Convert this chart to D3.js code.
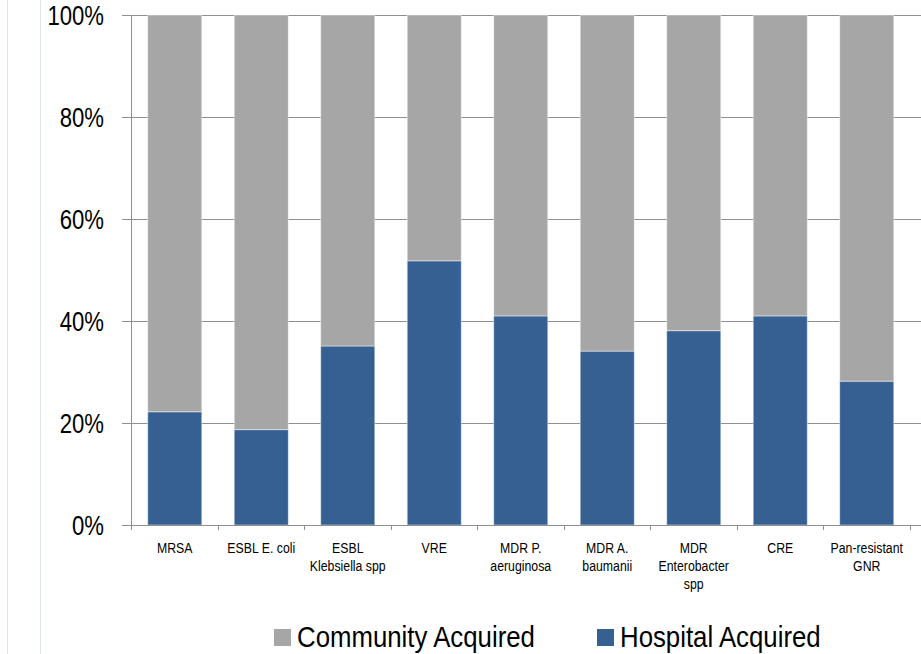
<!DOCTYPE html>
<html>
<head>
<meta charset="utf-8">
<script src="https://cdn.jsdelivr.net/npm/d3@7"></script>
<style>
	body { margin: 0; background: #fff; overflow: hidden; }
	svg { display: block; }
	text { font-family: "Liberation Sans", Arial, sans-serif; fill: #000; }
</style>
</head>
<body>
<div id="chart"></div>
<script>

// === Data === //

var categories = ['MRSA', 'ESBL E. coli', 'ESBL\nKlebsiella spp', 'VRE', 'MDR P.\naeruginosa', 'MDR A.\nbaumanii', 'MDR\nEnterobacter\nspp', 'CRE', 'Pan-resistant\nGNR'];
var hospital = [22.2, 18.7, 35.1, 51.8, 41.0, 34.1, 38.1, 41.0, 28.2]; // % hospital acquired
var community = [77.8, 81.3, 64.9, 48.2, 59.0, 65.9, 61.9, 59.0, 71.8]; // % community acquired
var yTicks = [0, 20, 40, 60, 80, 100];
var seriesNames = ['Hospital Acquired', 'Community Acquired'];


// === Globals === //

var width = 921, height = 654;
var plotLeft = 131.5, plotTop = 15, plotBottom = 525;
var step = 86.5;
var narrow = 0.82; // no narrow font installed, so squeeze the text horizontally

var colours = { 'Hospital Acquired': '#366092', 'Community Acquired': '#a6a6a6' };
var lineColour = '#8f8f8f';

var svg = d3.select('#chart').append('svg').attr('width', width).attr('height', height);

function squeeze(x, y, s) {
	return 'translate(' + x + ',' + y + ') scale(' + (s || narrow) + ',1)';
}


// === Page frame lines on the left === //

[7.5, 40.5].forEach(function(x) {
	svg.append('line')
		.attr('x1', x).attr('x2', x)
		.attr('y1', 0).attr('y2', height)
		.attr('stroke', '#dde4ef')
		.attr('stroke-width', 1);
});


// === Scales === //

var x = d3.scaleBand()
	.domain(categories)
	.range([plotLeft, plotLeft + categories.length * step])
	.paddingInner(0.375)
	.paddingOuter(0.1875);

var y = d3.scaleLinear()
	.domain([0, 100])
	.range([plotBottom, plotTop]);


// === Gridlines and y axis === //

svg.append('g')
	.attr('transform', 'translate(' + width + ',0)')
	.call(d3.axisLeft(y).tickValues(yTicks).tickSize(width - 122).tickFormat(''))
	.call(function(g) {
		g.select('.domain').remove();
		g.selectAll('line').attr('stroke', lineColour).attr('shape-rendering', 'crispEdges');
	});

svg.append('g')
	.selectAll('text')
	.data(yTicks)
	.join('text')
	.attr('transform', function(d) { return squeeze(104, y(d) + 10); })
	.attr('text-anchor', 'end')
	.attr('font-size', 27)
	.text(function(d) { return d + '%'; });

// y axis line
svg.append('line')
	.attr('x1', plotLeft).attr('x2', plotLeft)
	.attr('y1', plotTop).attr('y2', plotBottom + 5)
	.attr('stroke', lineColour)
	.attr('shape-rendering', 'crispEdges');


// === Stacked bars === //

var rows = categories.map(function(c, i) {
	return { category: c, 'Hospital Acquired': hospital[i], 'Community Acquired': community[i] };
});

var stacked = d3.stack().keys(seriesNames)(rows);

svg.append('g')
	.selectAll('g')
	.data(stacked)
	.join('g')
	.attr('fill', function(d) { return colours[d.key]; })
	.selectAll('rect')
	.data(function(d) { return d; })
	.join('rect')
	.attr('x', function(d) { return x(d.data.category); })
	.attr('y', function(d) { return y(d[1]); })
	.attr('width', x.bandwidth())
	.attr('height', function(d) { return y(d[0]) - y(d[1]); })
	.attr('stroke', 'rgba(255,255,255,0.45)')
	.attr('stroke-width', 1);


// === x axis === //

svg.append('line')
	.attr('x1', plotLeft).attr('x2', width)
	.attr('y1', plotBottom).attr('y2', plotBottom)
	.attr('stroke', lineColour)
	.attr('shape-rendering', 'crispEdges');

// tick marks at category boundaries
svg.append('g')
	.selectAll('line')
	.data(d3.range(categories.length + 1))
	.join('line')
	.attr('x1', function(i) { return x.step() * i + plotLeft; })
	.attr('x2', function(i) { return x.step() * i + plotLeft; })
	.attr('y1', plotBottom).attr('y2', plotBottom + 5)
	.attr('stroke', lineColour)
	.attr('shape-rendering', 'crispEdges');

var labels = svg.append('g')
	.selectAll('text')
	.data(categories)
	.join('text')
	.attr('text-anchor', 'middle')
	.attr('font-size', 15)
	.attr('transform', function(d) { return squeeze(x(d) + x.bandwidth() / 2, 0); });

labels.selectAll('tspan')
	.data(function(d) { return d.split('\n'); })
	.join('tspan')
	.attr('x', 0)
	.attr('y', function(d, i) { return 553 + i * 18; })
	.text(function(d) { return d; });


// === Legend === //

var legendItems = [
	{ name: 'Community Acquired', x: 274 },
	{ name: 'Hospital Acquired', x: 597 }
];

var legend = svg.append('g')
	.selectAll('g')
	.data(legendItems)
	.join('g')
	.attr('transform', function(d) { return 'translate(' + d.x + ',629)'; });

legend.append('rect')
	.attr('width', 17).attr('height', 17)
	.attr('fill', function(d) { return colours[d.name]; });

legend.append('text')
	.attr('transform', squeeze(23, 18, 0.86))
	.attr('font-size', 30)
	.text(function(d) { return d.name; });

</script>
</body>
</html>
